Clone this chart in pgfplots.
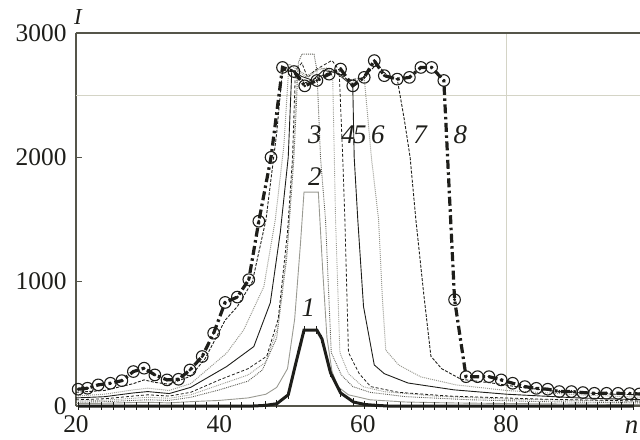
\documentclass[border=0pt]{standalone}
\usepackage{fontspec}
\setmainfont{Liberation Serif}
\usepackage{pgfplots}
\usepackage{pgfplotstable}
\pgfplotsset{compat=1.18}

\definecolor{axisgray}{HTML}{55554A}
\definecolor{gridbeige}{HTML}{D4D4C6}
\definecolor{ink}{HTML}{1E1E1A}
\definecolor{midgray}{HTML}{5E5E56}
\definecolor{lightgray}{HTML}{9A9A92}

% curve 8 (circles)
\pgfplotstableread{
n I
20.3 135
21.6 143
23.1 170
24.8 183
26.4 204
28.0 277
29.5 304
31.0 250
32.7 210
34.3 215
35.9 290
37.6 398
39.2 586
40.8 833
42.5 876
44.1 1016
45.5 1486
47.2 2000
48.8 2723
50.4 2690
51.9 2575
53.6 2618
55.3 2669
56.9 2710
58.6 2575
60.2 2643
61.6 2778
63.0 2657
64.8 2629
66.5 2643
68.1 2723
69.6 2723
71.3 2618
72.8 855
74.4 236
76.0 236
77.6 236
79.3 210
80.9 183
82.6 156
84.2 142
85.8 135
87.4 116
89.1 116
90.7 108
92.3 102
94.0 102
95.6 102
97.2 100
98.6 97
}\curveeight

\begin{document}
\begin{tikzpicture}
\begin{axis}[
  name=ax,
  scale only axis,
  width=573.6bp, height=373bp,
  xmin=20, xmax=100, ymin=0, ymax=3000,
  clip=false,
  axis x line*=bottom, axis y line*=left,
  axis line style={axisgray, line width=1.4bp},
  xtick={20,40,60,80}, ytick={0,1000,2000,3000},
  tick align=inside, major tick length=6bp,
  tick style={axisgray, line width=1bp},
  xtick style={draw=none},
  /pgf/number format/assume math mode=true,
  /pgf/number format/1000 sep={},
  tick label style={font=\fontsize{25.5}{25.5}\selectfont, text=ink},
  xticklabel style={yshift=-6bp},
  yticklabel style={xshift=-6bp},
  extra x ticks={80}, extra x tick labels={},
  extra y ticks={2500}, extra y tick labels={},
  extra tick style={grid=major, major grid style={gridbeige, line width=1.3bp}, tick style={draw=none}},
]
\draw[axisgray, line width=1.4bp] (rel axis cs:0,1) -- (rel axis cs:1,1);

% curve 2
\addplot[lightgray, line width=0.9bp] coordinates {
(20,20)(24,22)(28,28)(30,30)(33,25)(36,35)(40,45)(44,65)(46.5,95)(48,150)(49.5,300)(50.5,700)(51.3,1300)(51.8,1720)(53.8,1720)(54.4,1100)(55.0,550)(55.7,280)(56.5,156)(58,90)(61,50)(66,32)(72,25)(80,20)(90,15)(99,12)};
% curve 3
\addplot[midgray, line width=0.9bp, densely dotted] coordinates {
(20,30)(24,35)(28,45)(30,50)(33,45)(36,70)(40,130)(44,200)(46,290)(48,550)(49.4,1200)(50.4,2000)(51.0,2760)(51.5,2830)(53.2,2830)(53.6,2700)(54.1,2000)(54.8,1500)(55.6,430)(57,250)(58.6,156)(61,110)(66,75)(75,50)(85,35)(99,25)};
% unlabelled curve
\addplot[lightgray, line width=0.9bp, densely dotted] coordinates {
(20,40)(24,46)(28,62)(30,70)(33,62)(36,90)(40,170)(44,250)(46.4,350)(48.1,620)(49.5,1300)(50.3,2000)(50.8,2700)(52,2650)(53.5,2700)(55.0,2720)(55.8,2650)(56.2,1500)(56.8,430)(58,260)(60,156)(63,115)(70,80)(80,55)(99,35)};
% curve 4
\addplot[ink, line width=0.8bp, dash pattern=on 3bp off 2bp] coordinates {
(20,50)(24,58)(28,80)(30,90)(33,80)(36,110)(40,210)(44,300)(46.6,400)(48.2,700)(49.5,1400)(50.2,2000)(50.6,2700)(51.5,2760)(52.3,2640)(53.3,2700)(54.5,2740)(55.7,2780)(56.7,2700)(57.2,2000)(57.5,1500)(58.0,430)(59.5,260)(61.1,156)(65,110)(72,80)(85,55)(99,40)};
% curve 5
\addplot[ink, line width=0.9bp] coordinates {
(20,65)(24,75)(28,105)(30,116)(33,100)(36,150)(41,317)(44.8,478)(47.1,830)(48.5,1400)(49.6,2000)(50.1,2700)(51.5,2650)(53,2620)(54.5,2700)(56.3,2680)(58.6,2575)(58.8,2000)(59.3,1500)(60.1,800)(61.6,330)(63,260)(66.3,185)(72.7,130)(80,95)(90,65)(99,50)};
% curve 6
\addplot[lightgray, line width=1bp, densely dotted] coordinates {
(20,80)(24,95)(28,130)(30,143)(33,125)(36,180)(41,425)(43.4,613)(46.2,960)(47.8,1500)(49,2100)(49.7,2750)(51,2700)(52.5,2650)(54,2720)(55.5,2700)(57,2650)(58.5,2600)(60.2,2640)(61.2,2000)(62.2,1500)(62.7,900)(63.2,450)(65,330)(68.1,234)(73,170)(80,125)(90,90)(99,70)};
% curve 7
\addplot[ink, line width=0.9bp, dash pattern=on 3bp off 1.5bp] coordinates {
(20,110)(24,125)(28,180)(29.5,210)(31,190)(33,175)(36,240)(38,380)(40.8,690)(42.5,800)(44.6,1000)(46.5,1500)(48,2200)(48.8,2700)(50.5,2690)(52,2600)(54,2650)(56,2700)(58,2620)(60,2640)(62,2750)(63.5,2650)(64.8,2630)(65.8,2300)(66.6,2000)(67.4,1500)(68.5,900)(69.5,400)(71,300)(73.7,215)(78,185)(82,150)(88,112)(95,95)(99,90)};
% curve 1
\addplot[ink, line width=3bp, mark=|, mark size=4bp, mark options={solid, line width=1bp}] coordinates {
(20.3,0)(21.9,0)(23.6,0)(25.2,0)(26.8,0)(28.5,0)(30.1,0)(31.7,0)(33.3,0)(35.0,0)(36.6,0)(38.2,0)(39.9,0)(41.5,0)(43.1,0)(44.8,0)(46.4,5)(48.0,18)(49.6,90)(50.6,330)(51.8,610)(53.6,610)(54.3,540)(55.5,266)(56.9,105)(58.7,32)(60.3,12)(61.9,5)(63.5,0)(65.2,0)(66.8,0)(68.4,0)(70.0,0)(71.7,0)(73.3,0)(74.9,0)(76.6,0)(78.2,0)(79.8,0)(81.4,0)(83.1,0)(84.7,0)(86.3,0)(88.0,0)(89.6,0)(91.2,0)(92.8,0)(94.5,0)(96.1,0)(97.7,0)};
% curve 8
\addplot[ink, line width=3.2bp, dash pattern=on 9bp off 3.5bp on 2.5bp off 3.5bp,
  mark=o, mark size=5.8bp, mark options={solid, line width=1.1bp}] table[x=n, y=I] {\curveeight};
\addplot[only marks, ink, mark=*, mark size=1.3bp] table[x=n, y=I] {\curveeight};

% labels
\begin{scope}[font=\fontsize{27}{27}\selectfont\itshape, text=ink]
\node at (axis cs:52.4,788) {1};
\node at (axis cs:53.3,1842) {2};
\node at (axis cs:53.3,2180) {3};
\node at (axis cs:57.9,2180) {4};
\node at (axis cs:59.6,2180) {5};
\node at (axis cs:62.1,2180) {6};
\node at (axis cs:68.0,2180) {7};
\node at (axis cs:73.6,2180) {8};
\end{scope}
\node[anchor=base, inner sep=0pt, font=\fontsize{23}{23}\selectfont\itshape, text=ink]
  at (rel axis cs:0,1) [xshift=2bp, yshift=8bp] {I};
\node[anchor=base, inner sep=0pt, font=\fontsize{27}{27}\selectfont\itshape, text=ink]
  at (axis cs:97.5,0) [yshift=-27bp] {n};
\end{axis}
\pgfresetboundingbox
\path ([xshift=-76bp,yshift=-34bp]ax.south west) rectangle ([xshift=564bp,yshift=33bp]ax.north west);
\end{tikzpicture}
\end{document}
